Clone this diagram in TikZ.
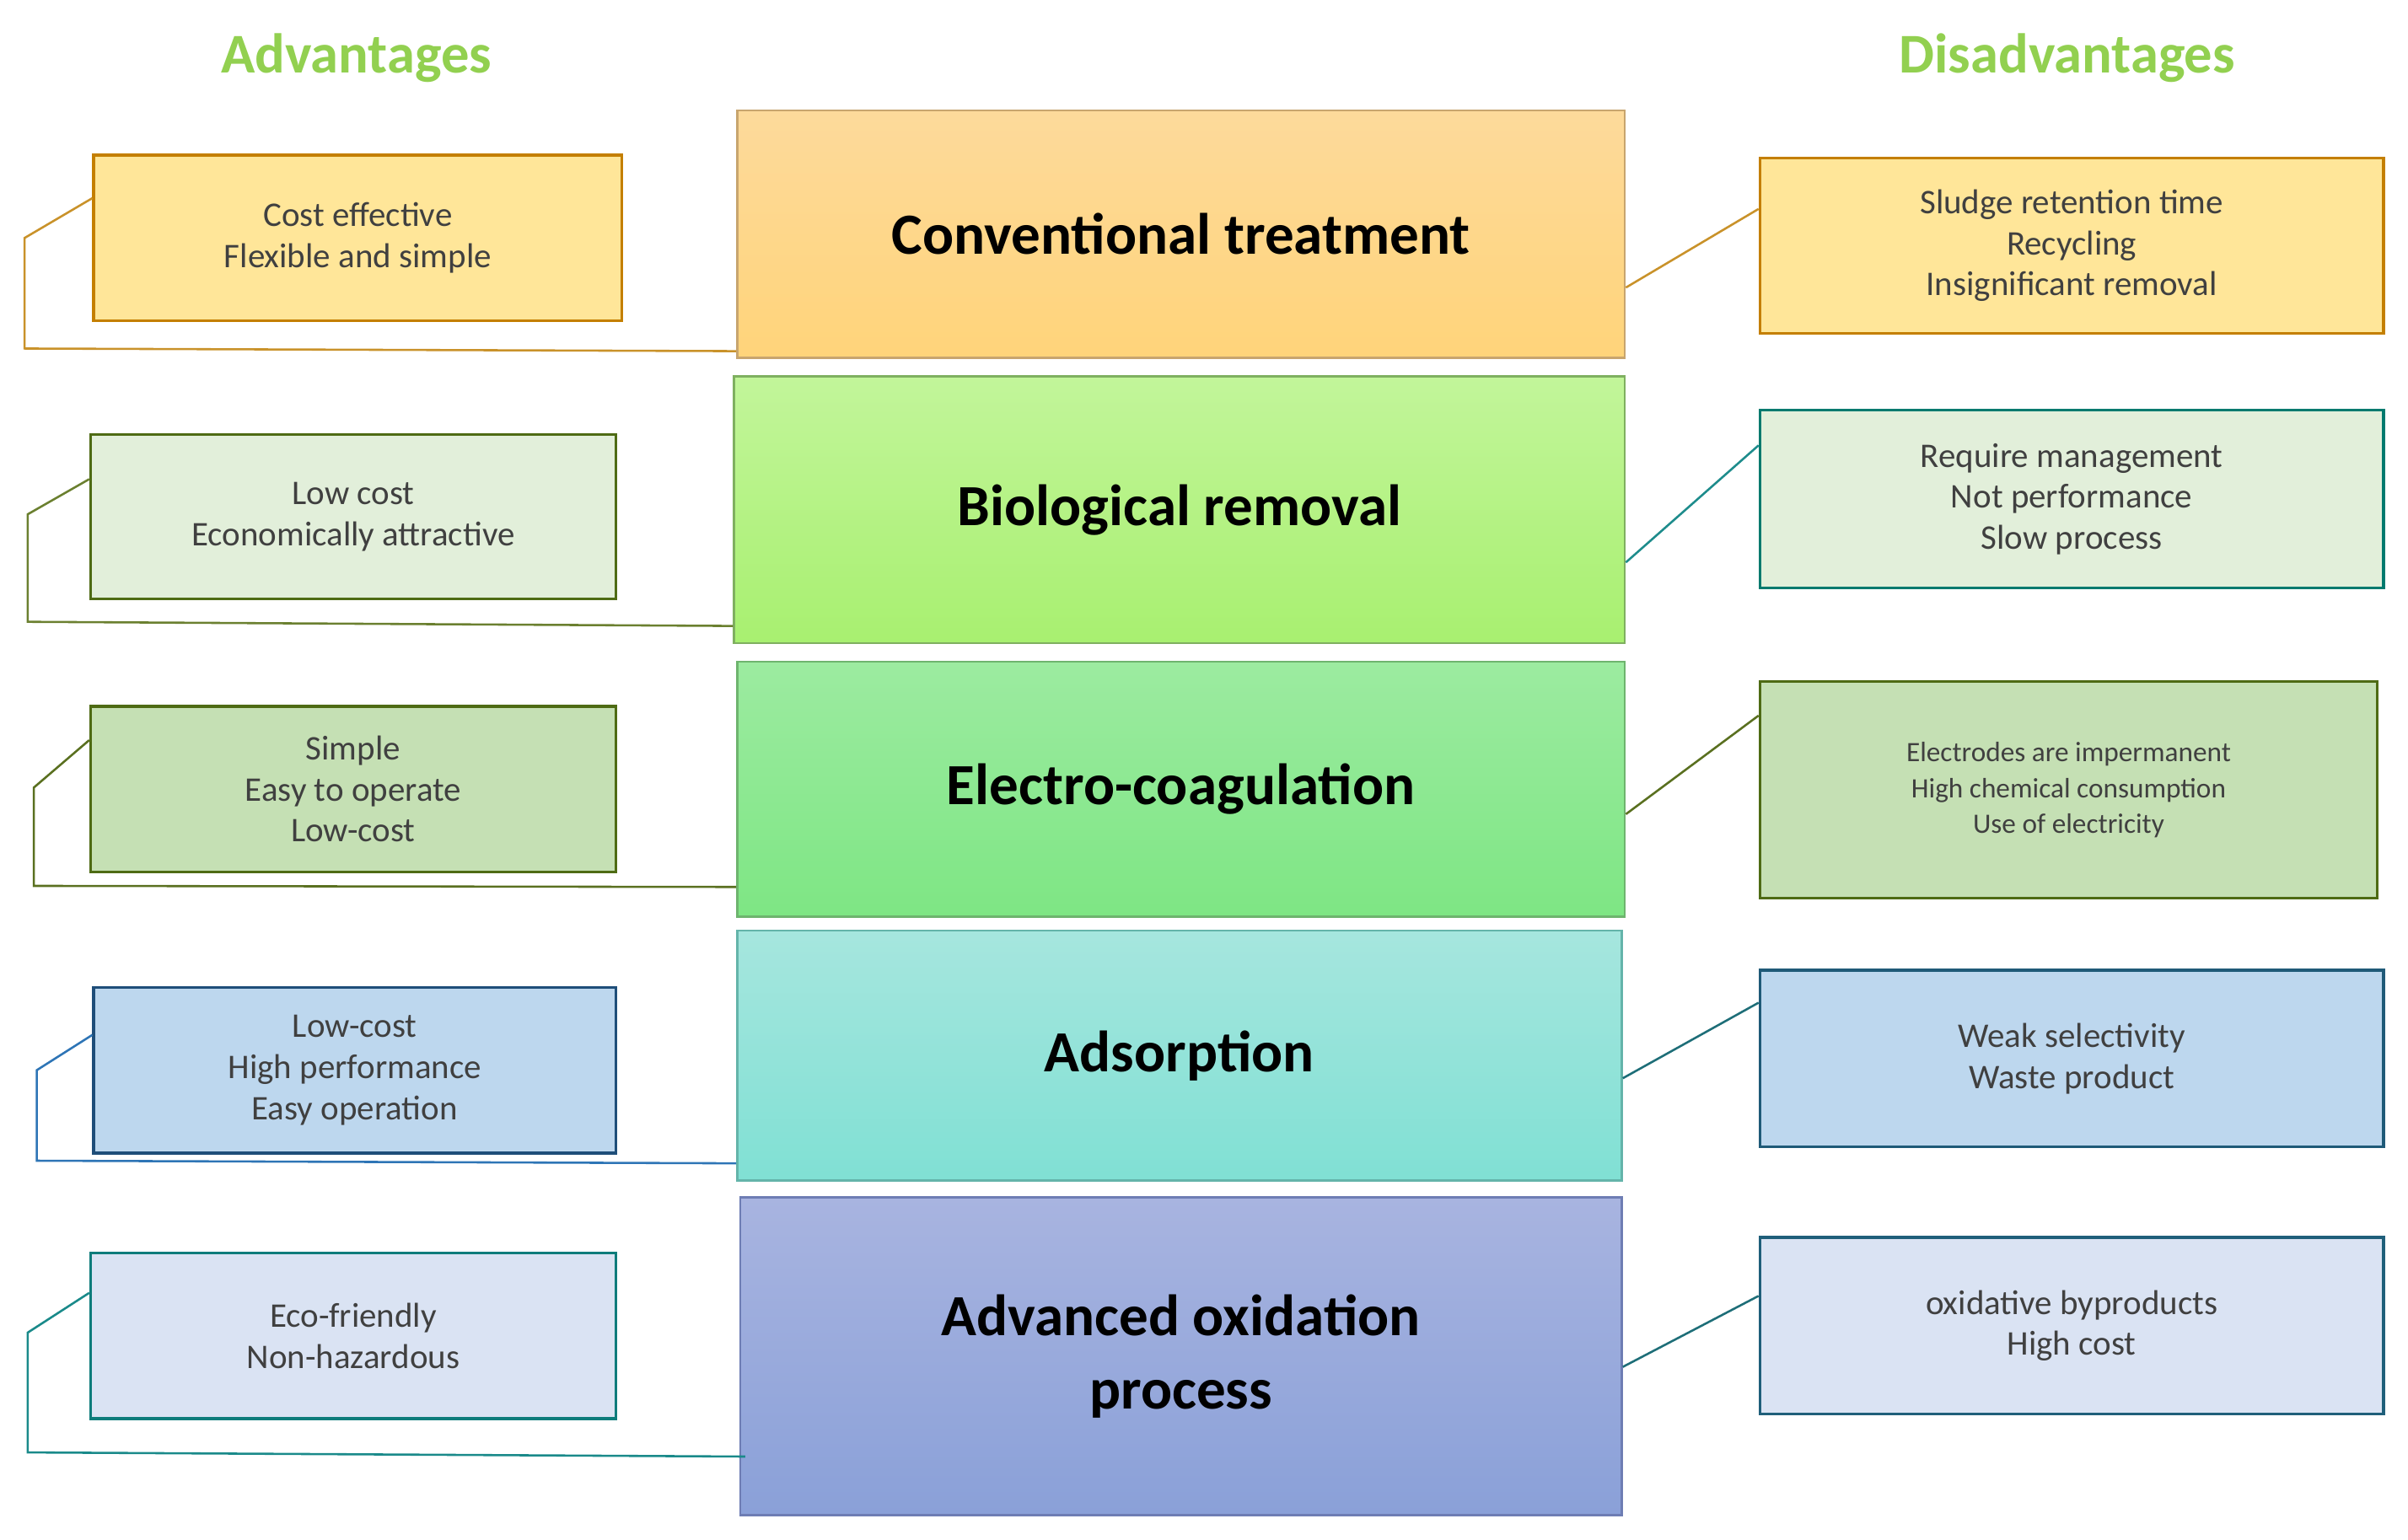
\documentclass[tikz,border=0pt]{standalone}
\usepackage{fontspec}
\setmainfont{Carlito}
\usetikzlibrary{calc}
\definecolor{txt}{HTML}{404040}
\definecolor{hd}{HTML}{92D050}
\def\u{0.05cm}
\begin{document}
\begin{tikzpicture}[x=0.05cm,y=-0.05cm,
  main/.style={draw, line width=2pt, font=\fontsize{54}{66}\selectfont\bfseries, align=center, text=black, inner sep=0pt},
  side/.style={draw, line width=2.6pt, font=\fontsize{32}{38}\selectfont, align=center, text=txt, inner sep=0pt},
  con/.style={line width=2pt},
  head/.style={font=\fontsize{52}{60}\selectfont\bfseries, text=hd}]
\useasboundingbox (0,0) rectangle (1568,1003);
\node[head] (ha) at (232,38) {Advantages};
\node[head] (hd) at (1346,38) {Disadvantages};
% center
\node[main, draw={rgb,255:red,200;green,165;blue,110}, top color={rgb,255:red,253;green,218;blue,155}, bottom color={rgb,255:red,255;green,212;blue,122}, minimum width=578*\u, minimum height=161*\u] (c1) at (769,152.5) {Conventional treatment};
\node[main, draw={rgb,255:red,127;green,176;blue,96}, top color={rgb,255:red,194;green,245;blue,154}, bottom color={rgb,255:red,168;green,240;blue,112}, minimum width=580*\u, minimum height=174*\u] (c2) at (768,332) {Biological removal};
\node[main, draw={rgb,255:red,110;green,180;blue,110}, top color={rgb,255:red,156;green,235;blue,160}, bottom color={rgb,255:red,126;green,230;blue,132}, minimum width=578*\u, minimum height=166*\u] (c3) at (769,514) {Electro-coagulation};
\node[main, draw={rgb,255:red,100;green,180;blue,170}, top color={rgb,255:red,166;green,230;blue,222}, bottom color={rgb,255:red,128;green,224;blue,212}, minimum width=576*\u, minimum height=163*\u] (c4) at (768,687.5) {Adsorption};
\node[main, draw={rgb,255:red,110;green,125;blue,180}, top color={rgb,255:red,168;green,180;blue,224}, bottom color={rgb,255:red,138;green,160;blue,216}, minimum width=574*\u, minimum height=207*\u, font=\fontsize{54}{68}\selectfont\bfseries] (c5) at (769,883.5) {Advanced oxidation\\process};
% left
\node[side, draw={rgb,255:red,196;green,127;blue,0}, fill={rgb,255:red,255;green,230;blue,153}, minimum width=344*\u, minimum height=108*\u] (l1) at (233,155) {Cost effective\\Flexible and simple};
\node[side, draw={rgb,255:red,78;green,107;blue,20}, fill={rgb,255:red,226;green,239;blue,218}, minimum width=342*\u, minimum height=107*\u] (l2) at (230,336.5) {Low cost\\Economically attractive};
\node[side, draw={rgb,255:red,78;green,107;blue,20}, fill={rgb,255:red,197;green,224;blue,180}, minimum width=342*\u, minimum height=108*\u] (l3) at (230,514) {Simple\\Easy to operate\\Low-cost};
\node[side, draw={rgb,255:red,31;green,78;blue,121}, fill={rgb,255:red,189;green,215;blue,238}, minimum width=340*\u, minimum height=108*\u] (l4) at (231,697) {Low-cost\\High performance\\Easy operation};
\node[side, draw={rgb,255:red,14;green,124;blue,123}, fill={rgb,255:red,218;green,227;blue,243}, minimum width=342*\u, minimum height=108*\u] (l5) at (230,870) {Eco-friendly\\Non-hazardous};
% right
\node[side, draw={rgb,255:red,196;green,127;blue,0}, fill={rgb,255:red,255;green,230;blue,153}, minimum width=406*\u, minimum height=114*\u] (r1) at (1349,160) {Sludge retention time\\Recycling\\Insignificant removal};
\node[side, draw={rgb,255:red,0;green,122;blue,110}, fill={rgb,255:red,226;green,239;blue,218}, minimum width=406*\u, minimum height=116*\u] (r2) at (1349,325) {Require management\\Not performance\\Slow process};
\node[side, draw={rgb,255:red,78;green,107;blue,20}, fill={rgb,255:red,197;green,224;blue,180}, minimum width=402*\u, minimum height=141*\u, font=\fontsize{26}{33}\selectfont] (r3) at (1347,514.5) {Electrodes are impermanent\\High chemical consumption\\Use of electricity};
\node[side, draw={rgb,255:red,31;green,90;blue,120}, fill={rgb,255:red,189;green,215;blue,238}, minimum width=406*\u, minimum height=115*\u] (r4) at (1349,689.5) {Weak selectivity\\Waste product};
\node[side, draw={rgb,255:red,31;green,95;blue,122}, fill={rgb,255:red,218;green,227;blue,243}, minimum width=406*\u, minimum height=115*\u] (r5) at (1349,863.5) {oxidative byproducts\\High cost};
% left connectors
\coordinate (a1) at (16,155); \coordinate (b1) at (16,227);
\coordinate (a2) at (18,335); \coordinate (b2) at (18,405);
\coordinate (a3) at (22,513); \coordinate (b3) at (22,577);
\coordinate (a4) at (24,697); \coordinate (b4) at (24,756);
\coordinate (a5) at (18,868); \coordinate (b5) at (18,946);
\draw[con, draw={rgb,255:red,201;green,146;blue,42}] ($(l1.north west)+(0,29)$) -- (a1) -- (b1) -- ($(c1.south west)+(0,-5)$);
\draw[con, draw={rgb,255:red,107;green,128;blue,48}] ($(l2.north west)+(0,30)$) -- (a2) -- (b2) -- ($(c2.south west)+(0,-12)$);
\draw[con, draw={rgb,255:red,90;green,112;blue,32}] ($(l3.north west)+(0,23)$) -- (a3) -- (b3) -- ($(c3.south west)+(0,-20)$);
\draw[con, draw={rgb,255:red,46;green,117;blue,182}] ($(l4.north west)+(0,32)$) -- (a4) -- (b4) -- ($(c4.south west)+(0,-12)$);
\draw[con, draw={rgb,255:red,26;green,138;blue,138}] ($(l5.north west)+(0,27)$) -- (a5) -- (b5) -- ($(c5.south west)+(4,-39)$);
% right connectors
\draw[con, draw={rgb,255:red,201;green,146;blue,42}] ($(c1.north east)+(0,116)$) -- ($(r1.north west)+(0,34)$);
\draw[con, draw={rgb,255:red,30;green,140;blue,140}] ($(c2.north east)+(0,122)$) -- ($(r2.north west)+(0,24)$);
\draw[con, draw={rgb,255:red,90;green,112;blue,32}] ($(c3.north east)+(0,100)$) -- ($(r3.north west)+(0,23)$);
\draw[con, draw={rgb,255:red,30;green,110;blue,120}] ($(c4.north east)+(0,97)$) -- ($(r4.north west)+(0,22)$);
\draw[con, draw={rgb,255:red,30;green,110;blue,120}] ($(c5.north east)+(0,111)$) -- ($(r5.north west)+(0,39)$);
\end{tikzpicture}
\end{document}
